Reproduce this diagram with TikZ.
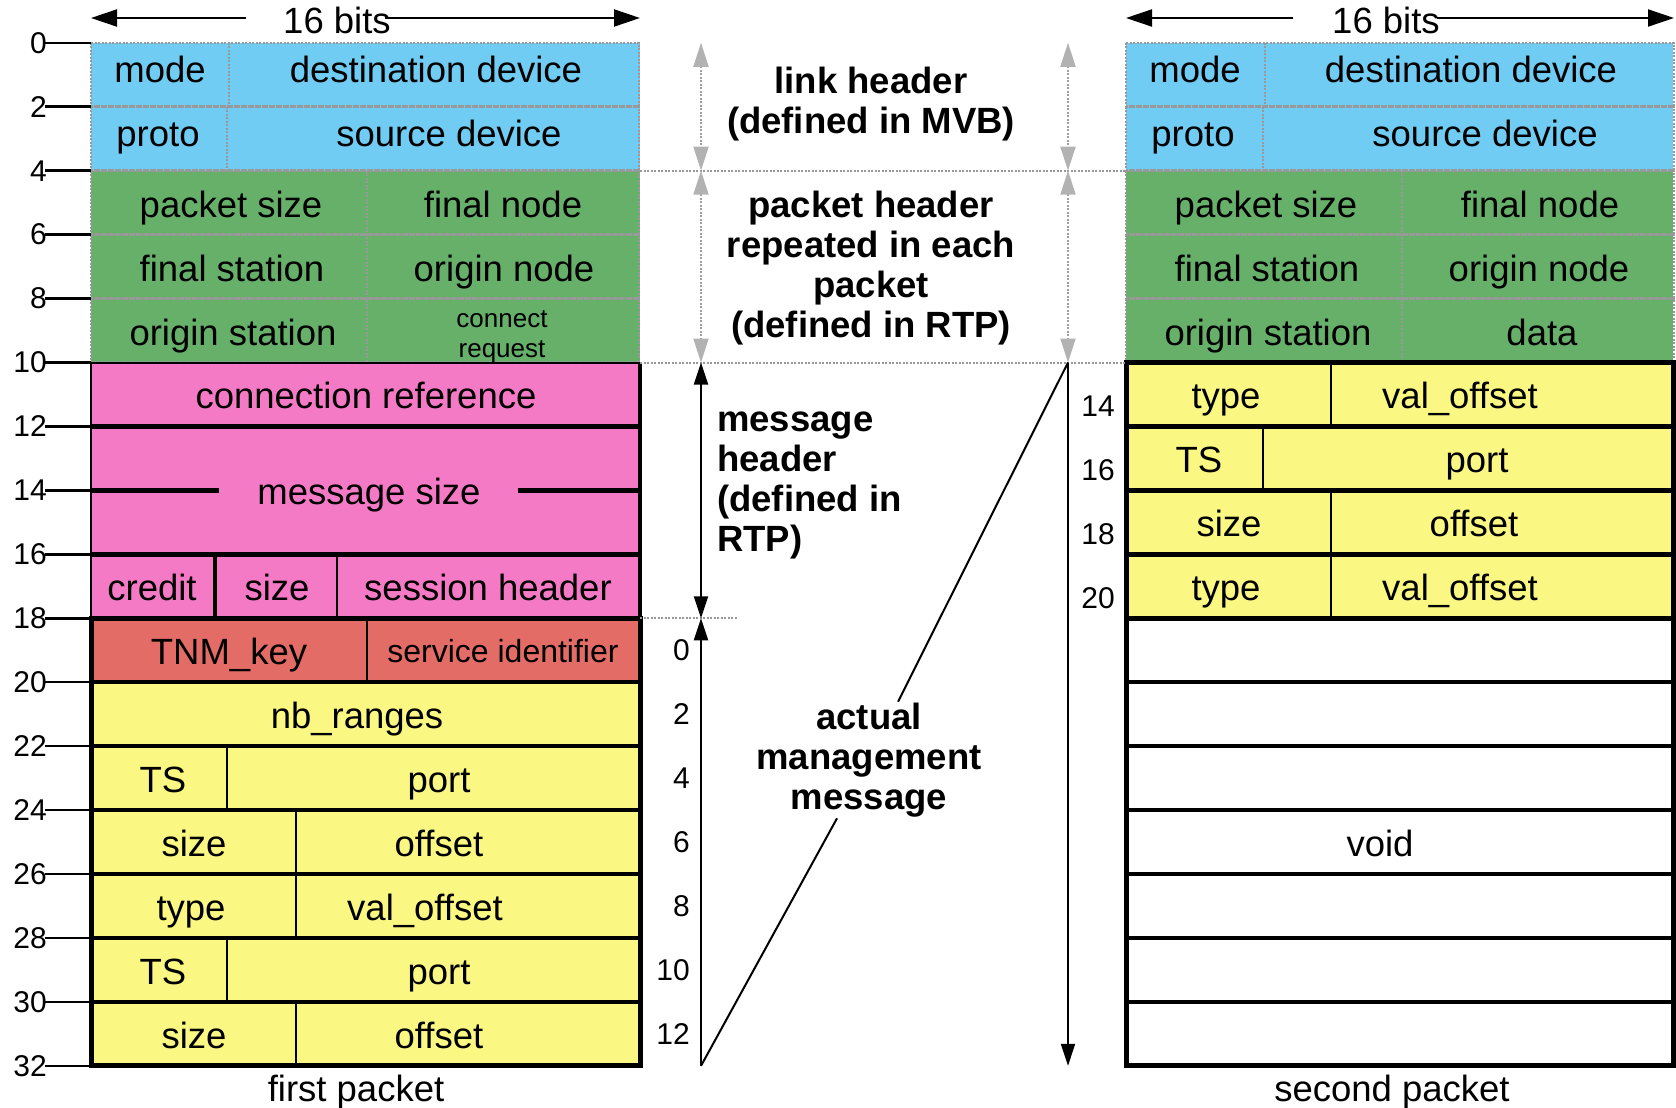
\documentclass[tikz,border=0pt]{standalone}
\usepackage{fontspec}
\setmainfont{Liberation Sans}
\usetikzlibrary{arrows.meta}

\definecolor{cblue}{RGB}{112,204,242}
\definecolor{cgreen}{RGB}{102,176,106}
\definecolor{cpink}{RGB}{245,122,198}
\definecolor{cred}{RGB}{228,108,102}
\definecolor{cyel}{RGB}{250,247,130}

\begin{document}
\begin{tikzpicture}[x=1pt,y=-1pt,
  declare function={ry(\n)=42.8+\n*31.97;},
  basetxt/.style={font=\fontsize{36.5}{40}\selectfont, inner sep=0pt, text height=26pt, text depth=7pt},
  txt/.style={basetxt, yshift=-5pt},
  toptxt/.style={basetxt, yshift=2pt},
  small/.style={font=\fontsize{26}{30}\selectfont, inner sep=0pt, align=center},
  lbl/.style={font=\bfseries\fontsize{36.5}{40}\selectfont, inner sep=2pt, align=center},
  num/.style={font=\fontsize{30}{30}\selectfont, inner sep=0pt, anchor=east},
  hdrline/.style={draw=gray!80, line width=2.5pt, dash pattern=on 2pt off 1.5pt},
  sepline/.style={draw=gray!80, line width=2pt, dash pattern=on 2pt off 1.5pt},
  heavy/.style={line width=4.5pt},
  divider/.style={line width=2.5pt},
  bitsarrow/.style={line width=2pt, -{Triangle[length=26pt,width=17pt]}},
  blackarrow/.style={line width=2pt, -{Triangle[length=22pt,width=14pt]}},
  blackdouble/.style={line width=2pt, {Triangle[length=22pt,width=14pt]}-{Triangle[length=22pt,width=14pt]}},
  grayarrow/.style={draw=gray!75, line width=2pt, dash pattern=on 2pt off 1.5pt,
    {Triangle[length=24pt,width=15pt,color=gray!60,fill=gray!60]}-{Triangle[length=24pt,width=15pt,color=gray!60,fill=gray!60]}},
]
\useasboundingbox (0,0) rectangle (1676,1108);

% ---------- background fills ----------
\fill[cblue]  (91,{ry(0)})  rectangle (640,{ry(4)});
\fill[cgreen] (91,{ry(4)})  rectangle (640,{ry(10)});
\fill[cpink]  (91,{ry(10)}) rectangle (640,{ry(18)});
\fill[cred]   (91,{ry(18)}) rectangle (640,{ry(20)});
\fill[cyel]   (91,{ry(20)}) rectangle (640,{ry(32)});
\fill[cblue]  (1126,{ry(0)})  rectangle (1673,{ry(4)});
\fill[cgreen] (1126,{ry(4)})  rectangle (1673,{ry(10)});
\fill[cyel]   (1126,{ry(10)}) rectangle (1673,{ry(18)});

% ---------- link and packet header grid ----------
\foreach \x in {91,1126} {
  \foreach \r in {0,2,4,6,8} {
    \draw[hdrline] (\x,{ry(\r)}) rectangle ({\x+548},{ry(\r+2)});
  }
}
\draw[hdrline] (229,{ry(0)}) -- (229,{ry(2)});
\draw[hdrline] (227,{ry(2)}) -- (227,{ry(4)});
\draw[hdrline] (367,{ry(4)}) -- (367,{ry(10)});
\draw[hdrline] (1265,{ry(0)}) -- (1265,{ry(2)});
\draw[hdrline] (1263,{ry(2)}) -- (1263,{ry(4)});
\draw[hdrline] (1402,{ry(4)}) -- (1402,{ry(10)});

% ---------- message header (first packet) ----------
\draw[line width=2pt] (91,{ry(10)}) -- (640,{ry(10)});
\draw[line width=2pt] (91,{ry(10)}) -- (91,{ry(18)});
\draw[line width=3.5pt] (640,{ry(10)}) -- (640,{ry(18)});
\draw[heavy] (91,{ry(12)}) -- (640,{ry(12)});
\draw[heavy] (91,{ry(16)}) -- (640,{ry(16)});
\draw[heavy] (91,{ry(14)}) -- (219,{ry(14)});
\draw[heavy] (518,{ry(14)}) -- (640,{ry(14)});
\draw[line width=4pt] (215,{ry(16)}) -- (215,{ry(18)});
\draw[divider] (337,{ry(16)}) -- (337,{ry(18)});

% ---------- management message (first packet) ----------
\foreach \r in {20,22,...,30} \draw[heavy] (91,{ry(\r)}) -- (640,{ry(\r)});
\draw[line width=5pt] (91,{ry(18)}) rectangle (640,{ry(32)});
\draw[divider] (367,{ry(18)}) -- (367,{ry(20)});
\draw[divider] (227,{ry(22)}) -- (227,{ry(24)});
\draw[divider] (296,{ry(24)}) -- (296,{ry(26)});
\draw[divider] (296,{ry(26)}) -- (296,{ry(28)});
\draw[divider] (227,{ry(28)}) -- (227,{ry(30)});
\draw[divider] (296,{ry(30)}) -- (296,{ry(32)});

% ---------- management message (second packet) ----------
\foreach \r in {12,14,...,30} \draw[heavy] (1126,{ry(\r)}) -- (1673,{ry(\r)});
\draw[line width=5pt] (1126,{ry(10)}) rectangle (1673,{ry(32)});
\draw[divider] (1331,{ry(10)}) -- (1331,{ry(12)});
\draw[divider] (1263,{ry(12)}) -- (1263,{ry(14)});
\draw[divider] (1331,{ry(14)}) -- (1331,{ry(16)});
\draw[divider] (1331,{ry(16)}) -- (1331,{ry(18)});

% ---------- byte offset scale ----------
\foreach \r in {0,2,...,32} {
  \draw[line width=2.5pt] (45,{ry(\r)}) -- (91,{ry(\r)});
  \node[num] (t\r) at (47,{ry(\r)}) {\r};
}
\foreach \k/\v in {0/0,1/2,2/4,3/6,4/8,5/10,6/12}
  \node[num] (m\v) at (690,{ry(19+2*\k)}) {\v};
\foreach \k/\v in {0/14,1/16,2/18,3/20}
  \node[num] (s\v) at (1115,{ry(11+2*\k)+12}) {\v};

% ---------- 16 bits width markers ----------
\node[basetxt] (bitsL) at (337,24) {16 bits};
\coordinate (bLl) at (91,18);
\coordinate (bLm) at (246,18);
\coordinate (bLn) at (385,18);
\coordinate (bLr) at (640,18);
\draw[bitsarrow] (bLm) -- (bLl);
\draw[bitsarrow] (bLn) -- (bLr);
\node[basetxt] (bitsR) at (1386,24) {16 bits};
\coordinate (bRl) at (1126,18);
\coordinate (bRm) at (1293,18);
\coordinate (bRn) at (1437,18);
\coordinate (bRr) at (1674,18);
\draw[bitsarrow] (bRm) -- (bRl);
\draw[bitsarrow] (bRn) -- (bRr);

% ---------- field names, first packet ----------
\node[toptxt] (f1mode)  at (160,{ry(1)}) {mode};
\node[toptxt] (f1dest)  at (436,{ry(1)}) {destination device};
\node[toptxt] (f1proto) at (158,{ry(3)}) {proto};
\node[toptxt] (f1src)   at (449,{ry(3)}) {source device};
\node[txt] (f1psize) at (231,{ry(5)}) {packet size};
\node[txt] (f1fnode) at (503,{ry(5)}) {final node};
\node[txt] (f1fstat) at (232,{ry(7)}) {final station};
\node[txt] (f1onode) at (504,{ry(7)}) {origin node};
\node[txt] (f1ostat) at (233,{ry(9)}) {origin station};
\node[small] (f1conn) at (502,{ry(9)+6}) {connect\\request};
\node[txt] (f1cref)  at (366,{ry(11)}) {connection reference};
\node[txt] (f1msize) at (369,{ry(14)}) {message size};
\node[txt] (f1cred)  at (152,{ry(17)}) {credit};
\node[txt] (f1size)  at (277,{ry(17)}) {size};
\node[txt] (f1sess)  at (488,{ry(17)}) {session header};
\node[txt] (f1key)   at (229,{ry(19)}) {TNM\_key};
\node[font=\fontsize{32}{32}\selectfont, inner sep=0pt, text height=23pt, text depth=6pt] (f1serv) at (503,{ry(19)+4}) {service identifier};
\node[txt] (f1nb)    at (357,{ry(21)}) {nb\_ranges};
\node[txt] (f1tsa)   at (163,{ry(23)}) {TS};
\node[txt] (f1porta) at (439,{ry(23)}) {port};
\node[txt] (f1sza)   at (194,{ry(25)}) {size};
\node[txt] (f1offa)  at (439,{ry(25)}) {offset};
\node[txt] (f1type)  at (191,{ry(27)}) {type};
\node[txt] (f1val)   at (425,{ry(27)}) {val\_offset};
\node[txt] (f1tsb)   at (163,{ry(29)}) {TS};
\node[txt] (f1portb) at (439,{ry(29)}) {port};
\node[txt] (f1szb)   at (194,{ry(31)}) {size};
\node[txt] (f1offb)  at (439,{ry(31)}) {offset};
\node[txt] (first)   at (356,1087) {first packet};

% ---------- field names, second packet ----------
\node[toptxt] (f2mode)  at (1195,{ry(1)}) {mode};
\node[toptxt] (f2dest)  at (1471,{ry(1)}) {destination device};
\node[toptxt] (f2proto) at (1193,{ry(3)}) {proto};
\node[toptxt] (f2src)   at (1485,{ry(3)}) {source device};
\node[txt] (f2psize) at (1266,{ry(5)}) {packet size};
\node[txt] (f2fnode) at (1540,{ry(5)}) {final node};
\node[txt] (f2fstat) at (1267,{ry(7)}) {final station};
\node[txt] (f2onode) at (1539,{ry(7)}) {origin node};
\node[txt] (f2ostat) at (1268,{ry(9)}) {origin station};
\node[txt] (f2data)  at (1542,{ry(9)}) {data};
\node[txt] (f2typea) at (1226,{ry(11)}) {type};
\node[txt] (f2vala)  at (1460,{ry(11)}) {val\_offset};
\node[txt] (f2ts)    at (1199,{ry(13)}) {TS};
\node[txt] (f2port)  at (1477,{ry(13)}) {port};
\node[txt] (f2size)  at (1229,{ry(15)}) {size};
\node[txt] (f2off)   at (1474,{ry(15)}) {offset};
\node[txt] (f2typeb) at (1226,{ry(17)}) {type};
\node[txt] (f2valb)  at (1460,{ry(17)}) {val\_offset};
\node[txt] (f2void)  at (1380,{ry(25)}) {void};
\node[txt] (second)  at (1392,1087) {second packet};

% ---------- section boundaries between the packets ----------
\draw[sepline] (640,{ry(4)}) -- (1126,{ry(4)});
\draw[sepline] (640,{ry(10)}) -- (1126,{ry(10)});
\draw[sepline] (640,{ry(18)}) -- (738,{ry(18)});

% ---------- section extents ----------
\coordinate (lhT) at (701,{ry(0)});
\coordinate (lhB) at (701,{ry(4)});
\coordinate (phB) at (701,{ry(10)});
\coordinate (mhB) at (701,{ry(18)});
\coordinate (amB) at (701,{ry(32)});
\coordinate (rlhT) at (1068,{ry(0)});
\coordinate (rlhB) at (1068,{ry(4)});
\coordinate (rphB) at (1068,{ry(10)});
\coordinate (rEnd) at (1068,{ry(32)});

\draw[grayarrow] (lhT) -- (lhB);
\draw[grayarrow] (lhB) -- (phB);
\draw[grayarrow] (rlhT) -- (rlhB);
\draw[grayarrow] (rlhB) -- (rphB);
\draw[blackdouble] (phB) -- (mhB);
\draw[blackarrow] (amB) -- (mhB);
\draw[blackarrow] (rphB) -- (rEnd);

\node[lbl] (linkhdr) at (871,104) {link header\\(defined in MVB)};
\node[lbl] (pkthdr) at (871,268) {packet header\\repeated in each\\packet\\(defined in RTP)};
\node[lbl, align=left, anchor=west, inner sep=0pt] (msghdr) at (717,485) {message\\header\\(defined in\\RTP)};
\node[lbl, inner sep=1pt] (actual) at (869,760) {actual\\management\\message};
\draw[line width=2pt] (amB) -- (actual) -- (rphB);
\end{tikzpicture}
\end{document}
